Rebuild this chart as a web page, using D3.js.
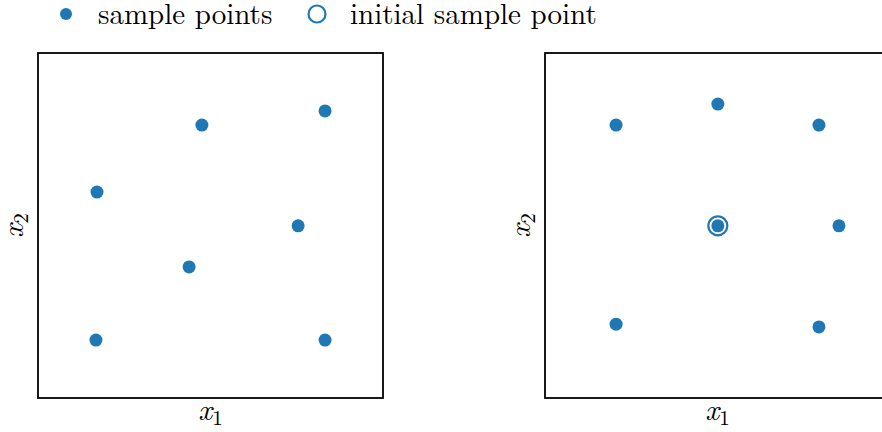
<!DOCTYPE html>
<html lang="en">
<head>
<meta charset="UTF-8">
<title>sample points</title>
<script src="https://d3js.org/d3.v7.min.js"></script>
<style>
  body { margin: 0; background: #fff; }
  svg { display: block; }
</style>
</head>
<body>
<svg id="chart" width="882" height="432"></svg>
<script>
// left panel: scattered samples
var leftX = [0.475, 0.832, 0.171, 0.754, 0.438, 0.168, 0.832];
var leftY = [0.791, 0.832, 0.597, 0.499, 0.380, 0.168, 0.168];
// right panel: samples around the initial one
var rightX = [0.206, 0.501, 0.794, 0.852, 0.206, 0.794, 0.501];
var rightY = [0.791, 0.852, 0.791, 0.499, 0.214, 0.206, 0.499];
var initialX = [0.501];
var initialY = [0.499];
var legendLabels = ["sample points", "initial sample point"];

var blue = "#1f77b4";
var serif = "'Latin Modern Roman', 'CMU Serif', serif";
var svg = d3.select("#chart");
var size = 345;

function panel(left, top, xs, ys, init) {
  var g = svg.append("g").attr("transform", "translate(" + left + "," + top + ")");
  var x = d3.scaleLinear().domain([0, 1]).range([0, size]);
  var y = d3.scaleLinear().domain([0, 1]).range([size, 0]);

  g.append("rect").attr("width", size).attr("height", size)
    .attr("fill", "none").attr("stroke", "#000").attr("stroke-width", 1.8);

  var pts = xs.map(function (v, i) { return [v, ys[i]]; });
  g.selectAll("circle.pt").data(pts).enter().append("circle")
    .attr("class", "pt")
    .attr("cx", d => x(d[0])).attr("cy", d => y(d[1]))
    .attr("r", 6.5).attr("fill", blue);

  if (init) {
    g.selectAll("circle.init").data(init).enter().append("circle")
      .attr("class", "init")
      .attr("cx", d => x(d[0])).attr("cy", d => y(d[1]))
      .attr("r", 9.5).attr("fill", "none").attr("stroke", blue).attr("stroke-width", 2.2);
  }

  var xl = g.append("text").attr("x", size / 2).attr("y", size + 22)
    .attr("text-anchor", "middle").attr("font-family", serif).attr("font-size", 30);
  xl.append("tspan").attr("font-style", "italic").text("x");
  xl.append("tspan").attr("font-size", 21).attr("dy", 5).text("1");

  var yl = g.append("text").attr("transform", "translate(-15," + (size / 2) + ") rotate(-90)")
    .attr("text-anchor", "middle").attr("font-family", serif).attr("font-size", 30);
  yl.append("tspan").attr("font-style", "italic").text("x");
  yl.append("tspan").attr("font-size", 21).attr("dy", 5).text("2");
}

panel(38, 53, leftX, leftY, null);
panel(545, 53, rightX, rightY, initialX.map((v, i) => [v, initialY[i]]));

// legend
var lg = svg.append("g").attr("font-family", serif).attr("font-size", 29);
lg.append("circle").attr("cx", 66).attr("cy", 14).attr("r", 6).attr("fill", blue);
lg.append("text").attr("x", 98).attr("y", 24).text(legendLabels[0]);
lg.append("circle").attr("cx", 317).attr("cy", 14).attr("r", 8.5)
  .attr("fill", "none").attr("stroke", blue).attr("stroke-width", 2.2);
lg.append("text").attr("x", 350).attr("y", 24).text(legendLabels[1]);
</script>
</body>
</html>
